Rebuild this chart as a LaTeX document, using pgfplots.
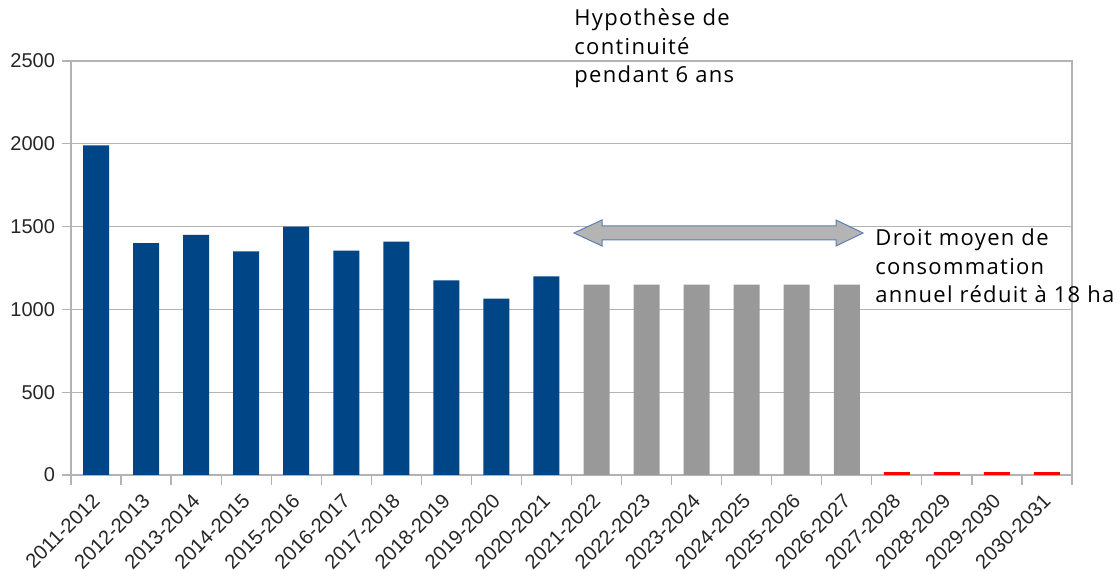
\documentclass[border=0pt]{standalone}
\usepackage{fontspec}
\setmainfont{Liberation Sans}
\newfontfamily\annot[LetterSpace=6]{Open Sans}
\usepackage{pgfplots}
\pgfplotsset{compat=1.18}

\definecolor{barblue}{HTML}{004586}
\definecolor{bargray}{HTML}{999999}
\definecolor{barred}{HTML}{FF0000}
\definecolor{axgray}{HTML}{B3B3B3}
\definecolor{arrowfill}{HTML}{B4B4B4}
\definecolor{arrowline}{HTML}{5B7FB4}

\begin{document}
\begin{tikzpicture}
\begin{axis}[
    ybar,
    width=500.5pt,
    height=207pt,
    scale only axis,
    xmin=-0.5, xmax=19.5,
    ymin=0, ymax=2500,
    ytick={0,500,1000,1500,2000,2500},
    xtick={0,...,19},
    xticklabels={2011-2012,2012-2013,2013-2014,2014-2015,2015-2016,2016-2017,2017-2018,2018-2019,2019-2020,2020-2021,2021-2022,2022-2023,2023-2024,2024-2025,2025-2026,2026-2027,2027-2028,2028-2029,2029-2030,2030-2031},
    minor xtick={-0.5,0.5,...,19.5},
    xtick pos=lower,
    ytick pos=left,
    major x tick style={draw=none},
    minor tick length=5pt,
    major tick length=4.5pt,
    tick align=outside,
    tick style={axgray, line width=0.6pt},
    axis line style={axgray, line width=0.6pt},
    ymajorgrids,
    grid style={axgray, line width=0.6pt},
    xticklabel style={xshift=-2.5pt, yshift=-2.5pt, rotate=45, anchor=north east, font=\fontsize{10.1}{12}\selectfont, text=black!85, inner sep=1pt},
    yticklabel style={font=\fontsize{10}{12}\selectfont, text=black!85},
    /pgf/number format/assume math mode=true,
    /pgf/number format/1000 sep={},
    bar width=13pt,
    bar shift=0pt,
]
% historique
\addplot[fill=barblue, draw=none] coordinates {
    (0,1990) (1,1400) (2,1450) (3,1350) (4,1500)
    (5,1355) (6,1410) (7,1175) (8,1065) (9,1200)
};
% hypothese de continuite
\addplot[fill=bargray, draw=none] coordinates {
    (10,1150) (11,1150) (12,1150) (13,1150) (14,1150) (15,1150)
};
% droit reduit a 18 ha
\addplot[fill=barred, draw=none] coordinates {
    (16,18) (17,18) (18,18) (19,18)
};
\end{axis}

% fleche double
\draw[fill=arrowfill, draw=arrowline, line width=0.5pt]
    (251.5pt,121pt) -- (265.5pt,127.5pt) -- (265.5pt,124.5pt) -- (382.5pt,124.5pt)
    -- (382.5pt,127.5pt) -- (396pt,121pt) -- (382.5pt,114.5pt) -- (382.5pt,117.5pt)
    -- (265.5pt,117.5pt) -- (265.5pt,114.5pt) -- cycle;

\node[anchor=base west, align=left, inner sep=0pt, font=\annot\fontsize{11}{14.25}\selectfont]
    at (251.5pt,196pt) {Hypothèse de\\continuité\\pendant 6 ans};
\node[anchor=base west, align=left, inner sep=0pt, font=\annot\fontsize{11}{14.25}\selectfont]
    at (402pt,86pt) {Droit moyen de\\consommation\\annuel réduit à 18 ha};

\pgfresetboundingbox
\path[use as bounding box] (-35.5pt,-48pt) rectangle (524.5pt,237.5pt);
\end{tikzpicture}
\end{document}
